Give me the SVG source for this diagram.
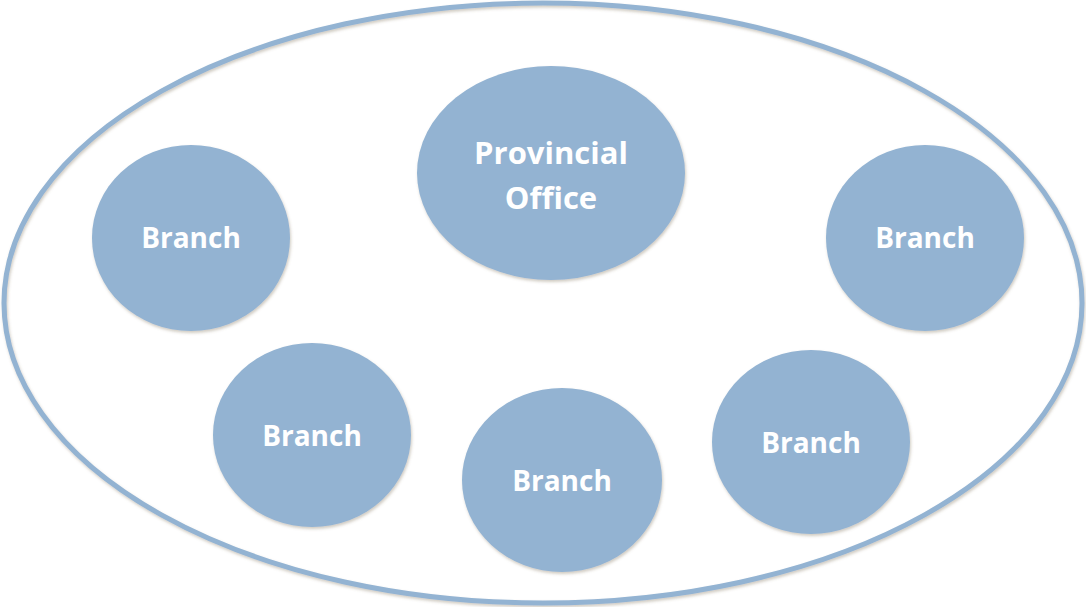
<svg xmlns="http://www.w3.org/2000/svg" width="1086" height="607" viewBox="0 0 1086 607">
<style>
.node{fill:#93b3d2;}
.lbl{fill:#ffffff;font-family:"Open Sans","Liberation Sans",sans-serif;font-weight:bold;font-size:28px;text-anchor:middle;}
.big{font-size:31px;}
.outer{fill:none;stroke:#93b3d2;stroke-width:5;}
</style>
<defs>
<filter id="sh" x="-10%" y="-10%" width="120%" height="120%">
<feDropShadow dx="1" dy="2" stdDeviation="1.5" flood-color="#7a6a50" flood-opacity="0.35"/>
</filter>
</defs>
<rect width="1086" height="607" fill="#ffffff"/>
<g id="boundary"><ellipse class="outer" cx="543" cy="303" rx="539" ry="300" filter="url(#sh)"/></g>
<g id="connectors"></g>
<g id="provincial"><ellipse class="node" cx="551" cy="173" rx="134" ry="107" filter="url(#sh)"/><text class="lbl big" x="551" y="164">Provincial</text><text class="lbl big" x="551" y="209">Office</text></g>
<g id="branch1"><ellipse class="node" cx="191" cy="238" rx="99" ry="93" filter="url(#sh)"/><text class="lbl" x="191" y="248">Branch</text></g>
<g id="branch2"><ellipse class="node" cx="925" cy="238" rx="99" ry="93" filter="url(#sh)"/><text class="lbl" x="925" y="248">Branch</text></g>
<g id="branch3"><ellipse class="node" cx="312" cy="435" rx="99" ry="92" filter="url(#sh)"/><text class="lbl" x="312" y="446">Branch</text></g>
<g id="branch4"><ellipse class="node" cx="562" cy="480" rx="100" ry="92" filter="url(#sh)"/><text class="lbl" x="562" y="491">Branch</text></g>
<g id="branch5"><ellipse class="node" cx="811" cy="442" rx="99" ry="92" filter="url(#sh)"/><text class="lbl" x="811" y="453">Branch</text></g>
</svg>
